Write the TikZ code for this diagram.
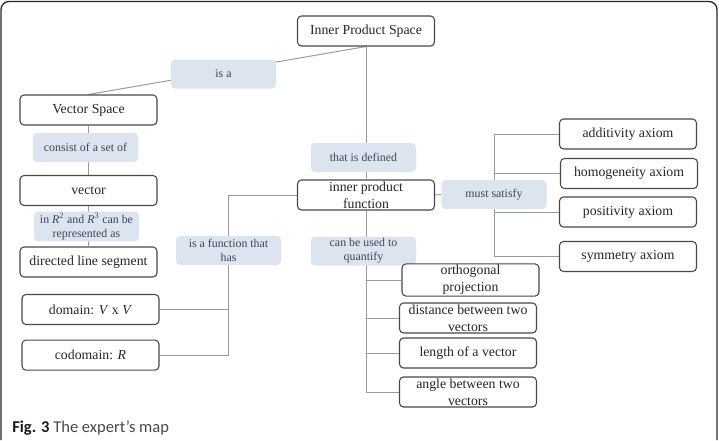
\documentclass[tikz,border=0pt]{standalone}
\usepackage{fontspec}
\setmainfont{Liberation Serif}
\newfontfamily\capfont{Carlito}
\usepackage{tikz}
\usetikzlibrary{positioning, backgrounds}
\definecolor{labelfill}{RGB}{220,228,240}
\definecolor{labeltext}{RGB}{62,70,86}
\definecolor{boxline}{RGB}{72,72,72}
\definecolor{linkgray}{RGB}{155,155,155}

\begin{document}
\begin{tikzpicture}[
    x=0.75pt, y=-0.75pt,
    concept/.style={draw=boxline, line width=0.8pt, rectangle, rounded corners=3pt, fill=white, minimum width=102.75pt, minimum height=22.5pt, inner sep=1pt, align=center, text=black!85, font=\fontsize{10.35}{12.75}\selectfont},
    linkword/.style={rectangle, rounded corners=3pt, fill=labelfill, minimum width=78.75pt, minimum height=21.75pt, inner sep=1pt, align=center, text=labeltext, font=\fontsize{8.9}{10.5}\selectfont},
    link/.style={draw=linkgray, line width=0.75pt},
    frame/.style={draw=black!85, line width=1pt, rounded corners=6pt}
]
\useasboundingbox (0,0) rectangle (719,440);

\node (ips) [concept] at (366,31) {Inner Product Space};
\node (isa) [linkword] at (223.5,74) {is a};
\node (vs) [concept] at (88.5,110) {Vector Space};
\node (cons) [linkword] at (85.5,147.5) {consist of a set of};
\node (vec) [concept] at (88.5,190.5) {vector};
\node (inr) [linkword] at (86.5,226.5) {in \textit{R}\textsuperscript{2} and \textit{R}\textsuperscript{3} can be\\represented as};
\node (dls) [concept] at (88.5,262) {directed line segment};
\node (dom) [concept] at (90.5,309.5) {domain: \textit{V} x \textit{V}};
\node (cod) [concept, below=10.9pt of dom] {codomain: \textit{R}};
\node (hasf) [linkword] at (228.5,250.5) {is a function that\\has};

\node (def) [linkword] at (363.5,157.5) {that is defined};
\node (ipf) [concept] at (366,195) {inner product\\function};
\node (must) [linkword] at (494,194.5) {must satisfy};
\node (quant) [linkword] at (363.5,251) {can be used to\\quantify};

\node (add) [concept] at (628,134) {additivity axiom};
\node (hom) [concept] at (629,173.5) {homogeneity axiom};
\node (pos) [concept] at (628,212) {positivity axiom};
\node (sym) [concept] at (628,256.5) {symmetry axiom};

\node (orth) [concept] at (470.5,280) {orthogonal\\projection};
\node (dist) [concept] at (468,318) {distance between two\\vectors};
\node (len) [concept] at (468,353) {length of a vector};
\node (ang) [concept] at (468,392) {angle between two\\vectors};

\begin{scope}[on background layer]
\draw [link] (ips.south) -- (vs.north);
\draw [link] (vs.south) -- (vec.north);
\draw [link] (vec.south) -- (dls.north);
\draw [link] (ips.south) -- (ipf.north);
\draw [link] (ipf.east) -- (must.west);
\draw [link] (ipf.west) -| (hasf.center) |- (cod.east);
\draw [link] (hasf.center) |- (dom.east);
\foreach \n in {add,hom,pos,sym}
    \draw [link] (must.center) |- (\n.west);
\foreach \n in {orth,dist,len,ang}
    \draw [link] (ipf.south) |- (\n.west);
\end{scope}

\draw [frame] (1,440) -- (1,1.5) -- (717,1.5) -- (717,440);
\node (cap) [anchor=base west, inner sep=0, font=\capfont\fontsize{12.4}{14}\selectfont, text=black!72] at (12,432) {{\color{black!90}\textbf{Fig. 3}} The expert’s map};

\end{tikzpicture}
\end{document}
